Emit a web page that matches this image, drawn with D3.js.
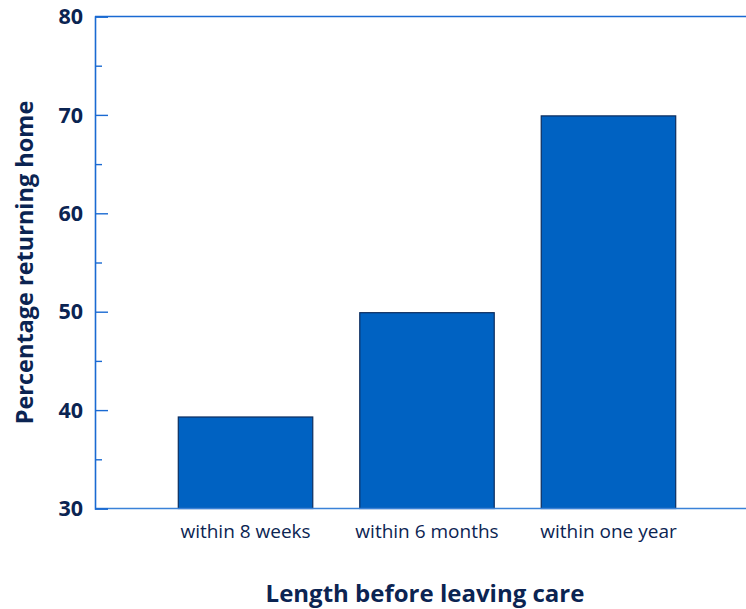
<!DOCTYPE html>
<html>
<head>
<meta charset="utf-8">
<script src="https://cdn.jsdelivr.net/npm/d3@7"></script>
<style>
  html, body { margin: 0; padding: 0; background: #fff; }
  svg { display: block; }
</style>
</head>
<body>
<svg id="chart" width="746" height="609"></svg>
<script>
// Share of children returning home, by time before leaving care
const categories = ["within 8 weeks", "within 6 months", "within one year"];
const values = [39.3, 49.9, 69.9];
const yMajorTicks = [30, 40, 50, 60, 70, 80];
const yMinorTicks = [35, 45, 55, 65, 75];

const svg = d3.select("#chart");
const W = 746, H = 609;
const plotLeft = 95, plotTop = 16.5, plotBottom = 508.5;

const textColor = "#0b2452";
const axisColor = "#1a6ad2";
const barFill = "#0062c2";
const barStroke = "#0c2d5e";
const font = "'Open Sans', sans-serif";

const y = d3.scaleLinear().domain([30, 80]).range([plotBottom, plotTop]);
const x = d3.scaleBand()
  .domain(categories)
  .range([plotLeft, 759])
  .paddingInner(0.259)
  .paddingOuter(0.459);

// bars
svg.append("g").selectAll("rect")
  .data(values)
  .join("rect")
  .attr("x", (d, i) => x(categories[i]))
  .attr("y", d => y(d))
  .attr("width", x.bandwidth())
  .attr("height", d => y(30) - y(d))
  .attr("fill", barFill)
  .attr("stroke", barStroke)
  .attr("stroke-width", 1.2);

// frame: top and bottom rules
svg.append("line")
  .attr("x1", plotLeft).attr("x2", W).attr("y1", plotTop).attr("y2", plotTop)
  .attr("stroke", axisColor).attr("stroke-width", 1.6);
svg.append("line")
  .attr("x1", plotLeft).attr("x2", W).attr("y1", plotBottom).attr("y2", plotBottom)
  .attr("stroke", "#3a82d8").attr("stroke-width", 1.4);

// y axis with inward major ticks
const yAxis = d3.axisRight(y)
  .tickValues(yMajorTicks)
  .tickSize(13)
  .tickFormat("");
const gy = svg.append("g").attr("transform", `translate(${plotLeft},0)`).call(yAxis);
gy.select(".domain").attr("stroke", axisColor).attr("stroke-width", 1.6);
gy.selectAll(".tick line").attr("stroke", axisColor).attr("stroke-width", 1.4);

// minor ticks
const yMinor = d3.axisRight(y).tickValues(yMinorTicks).tickSize(7).tickFormat("");
const gm = svg.append("g").attr("transform", `translate(${plotLeft},0)`).call(yMinor);
gm.select(".domain").remove();
gm.selectAll(".tick line").attr("stroke", axisColor).attr("stroke-width", 1.4);

// y tick labels
svg.append("g").selectAll("text")
  .data(yMajorTicks)
  .join("text")
  .attr("x", 83)
  .attr("y", d => y(d))
  .attr("dy", "0.36em")
  .attr("text-anchor", "end")
  .attr("font-family", font)
  .attr("font-weight", "bold")
  .attr("font-size", 21.5)
  .attr("fill", textColor)
  .text(d => d);

// category labels
svg.append("g").selectAll("text")
  .data(categories)
  .join("text")
  .attr("x", d => x(d) + x.bandwidth() / 2)
  .attr("y", 538)
  .attr("text-anchor", "middle")
  .attr("font-family", font)
  .attr("font-size", 19)
  .attr("fill", textColor)
  .text(d => d);

// axis titles
svg.append("text")
  .attr("x", 425)
  .attr("y", 602)
  .attr("text-anchor", "middle")
  .attr("font-family", font)
  .attr("font-weight", "bold")
  .attr("font-size", 24)
  .attr("fill", textColor)
  .text("Length before leaving care");

svg.append("text")
  .attr("transform", `translate(33,${(plotTop + plotBottom) / 2}) rotate(-90)`)
  .attr("text-anchor", "middle")
  .attr("font-family", font)
  .attr("font-weight", "bold")
  .attr("font-size", 23.5)
  .attr("fill", textColor)
  .text("Percentage returning home");
</script>
</body>
</html>
